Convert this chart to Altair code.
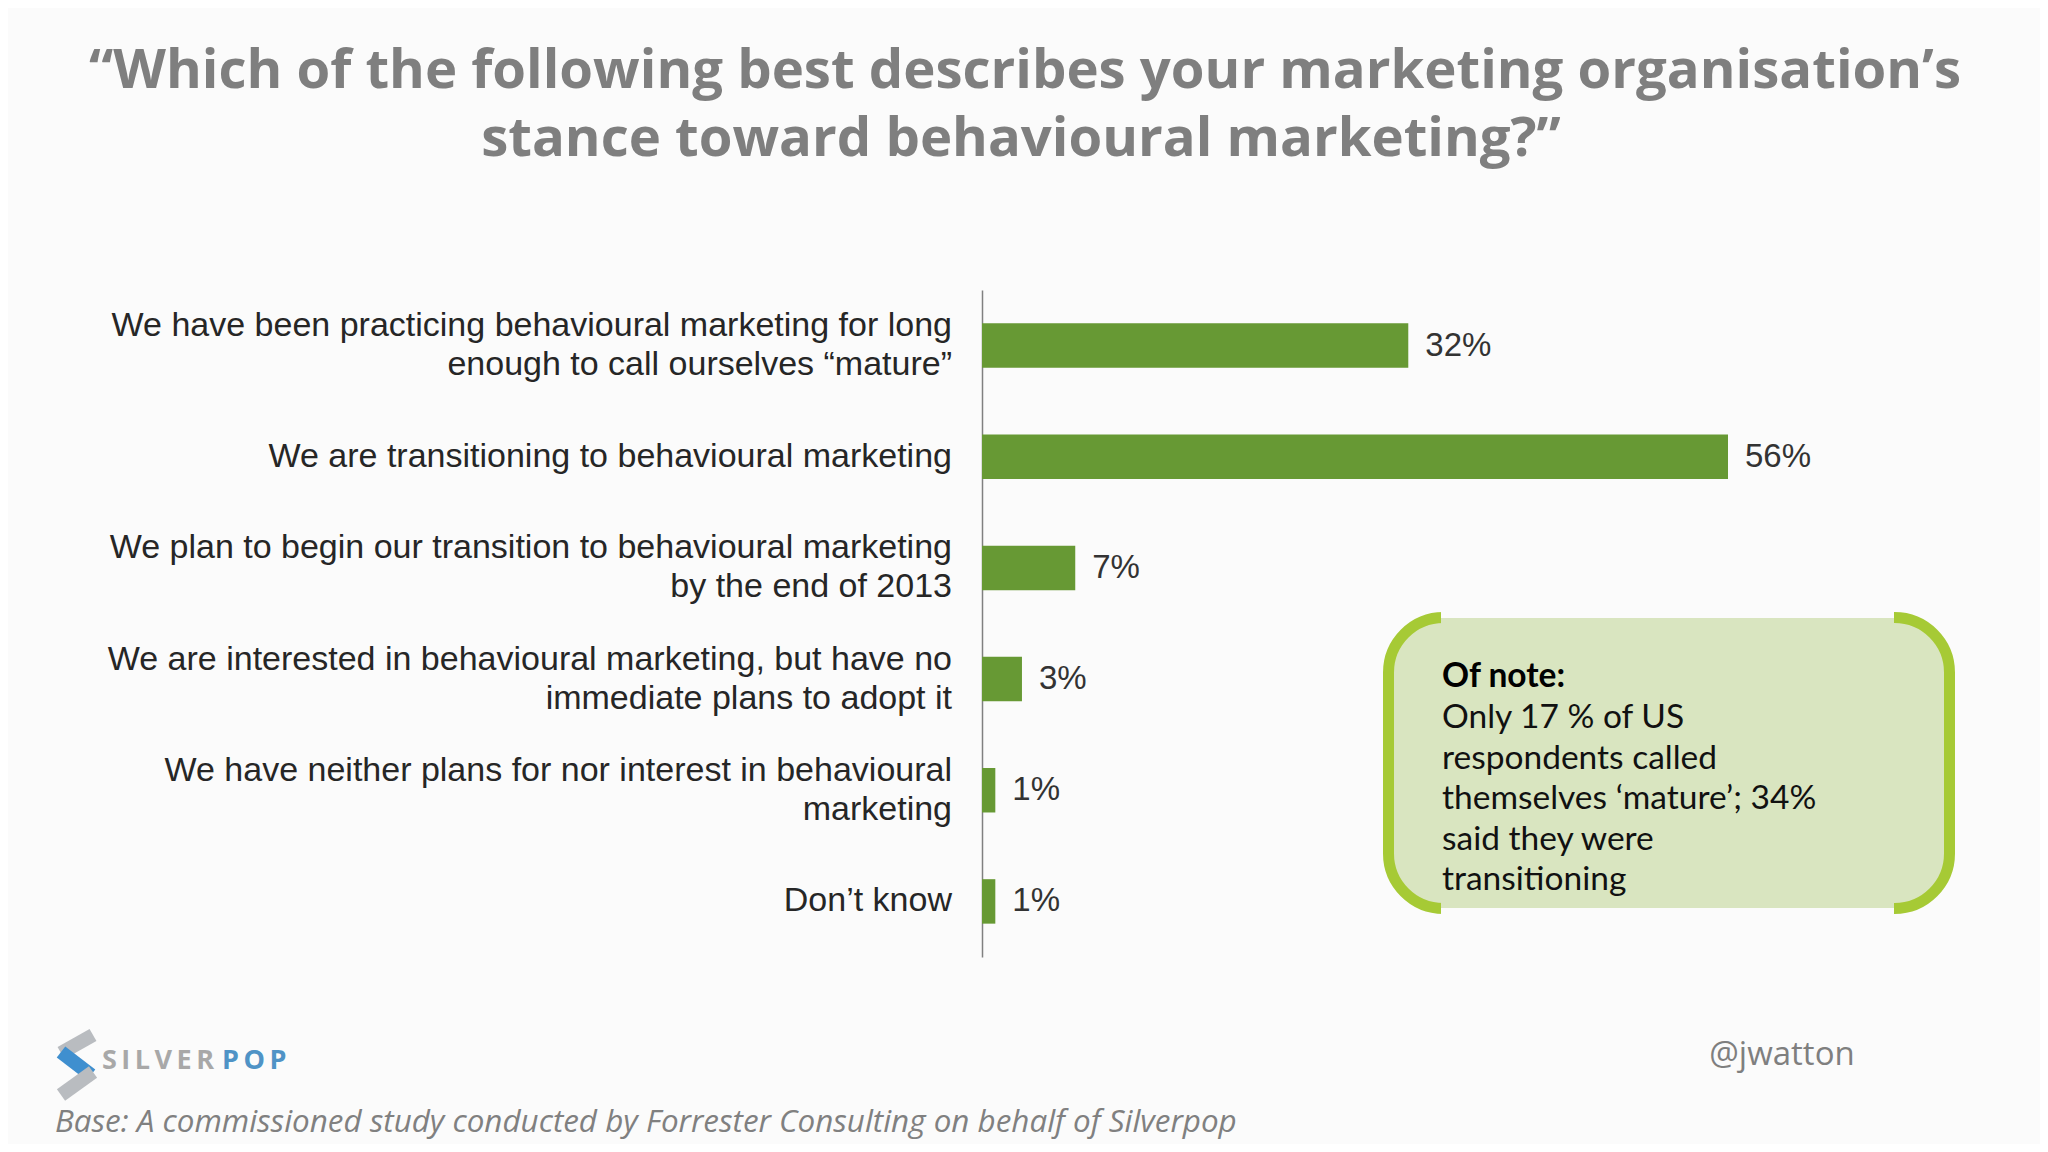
import altair as alt
import pandas as pd

# ---- data -------------------------------------------------------------
categories = [
    "We have been practicing behavioural marketing for long|enough to call ourselves \u201cmature\u201d",
    "We are transitioning to behavioural marketing",
    "We plan to begin our transition to behavioural marketing|by the end of 2013",
    "We are interested  in behavioural marketing, but have no|immediate plans to adopt it",
    "We have neither plans for nor interest in behavioural|marketing",
    "Don\u2019t know",
]
values = [32, 56, 7, 3, 1, 1]

title_lines = [
    "\u201cWhich of the following best describes your marketing organisation\u2019s",
    "stance toward behavioural marketing?\u201d",
]
note_head = "Of note:"
note_lines = [
    "Only 17 % of US",
    "respondents called",
    "themselves \u2018mature\u2019; 34%",
    "said they were",
    "transitioning",
]
footer = "Base: A commissioned study conducted by Forrester Consulting on behalf of Silverpop"
handle = "@jwatton"

df = pd.DataFrame({"category": categories, "value": values})

GREEN = "#679934"
BOX_FILL = "#d9e5c0"
LIME = "#a6ca35"
BG = "#fbfbfb"
SANS2 = "Open Sans"

one = pd.DataFrame({"a": [0]})

# ---- bars ---------------------------------------------------------------
y_enc = alt.Y(
    "category:N",
    sort=categories,
    title=None,
    scale=alt.Scale(paddingInner=0.6, paddingOuter=0.3),
    axis=alt.Axis(
        ticks=False,
        grid=False,
        labels=False,
        domainColor="#808080",
        domainWidth=1.5,
    ),
)
x_enc = alt.X("value:Q", scale=alt.Scale(domain=[0, 56], nice=False, zero=True), axis=None)

bars = alt.Chart(df).mark_bar(color=GREEN).encode(y=y_enc, x=x_enc)

lab_base = alt.Chart(df).transform_calculate(
    l1="split(datum.category, '|')[0]",
    l2="length(split(datum.category, '|')) > 1 ? split(datum.category, '|')[1] : ''",
)
lab_style = dict(align="right", baseline="middle", font="Liberation Sans", fontSize=34, color="#262626")
cat_single = lab_base.transform_filter("datum.l2 == ''").mark_text(**lab_style).encode(
    y=y_enc, x=alt.value(-30), text="l1:N")
cat_top = lab_base.transform_filter("datum.l2 != ''").mark_text(dy=-19.5, **lab_style).encode(
    y=y_enc, x=alt.value(-30), text="l1:N")
cat_bot = lab_base.transform_filter("datum.l2 != ''").mark_text(dy=19.5, **lab_style).encode(
    y=y_enc, x=alt.value(-30), text="l2:N")

labels = (
    alt.Chart(df)
    .transform_calculate(lab="datum.value + '%'")
    .mark_text(align="left", baseline="middle", dx=17, font="Liberation Sans", fontSize=33, color="#333333")
    .encode(y=y_enc, x=x_enc, text="lab:N")
)

# ---- title ----------------------------------------------------------------
title1 = alt.Chart(one).mark_text(
    text=title_lines[0], font=SANS2, fontWeight="bold", fontSize=54.5, color="#7f7f7f",
    align="center", baseline="alphabetic",
).encode(x=alt.value(43), y=alt.value(-202))
title2 = alt.Chart(one).mark_text(
    text=title_lines[1], font=SANS2, fontWeight="bold", fontSize=54.5, color="#7f7f7f",
    align="center", baseline="alphabetic",
).encode(x=alt.value(39), y=alt.value(-134))

# ---- note box -------------------------------------------------------------
box = alt.Chart(one).mark_rect(fill=BOX_FILL, stroke=LIME, strokeWidth=11, cornerRadius=55).encode(
    x=alt.value(406.5), x2=alt.value(967.5), y=alt.value(327.5), y2=alt.value(618.5)
)
cover_top_bg = alt.Chart(one).mark_rect(fill=BG).encode(
    x=alt.value(459), x2=alt.value(912), y=alt.value(320), y2=alt.value(328)
)
cover_top_fill = alt.Chart(one).mark_rect(fill=BOX_FILL).encode(
    x=alt.value(459), x2=alt.value(912), y=alt.value(328), y2=alt.value(334)
)
cover_bot_fill = alt.Chart(one).mark_rect(fill=BOX_FILL).encode(
    x=alt.value(459), x2=alt.value(912), y=alt.value(612), y2=alt.value(618)
)
cover_bot_bg = alt.Chart(one).mark_rect(fill=BG).encode(
    x=alt.value(459), x2=alt.value(912), y=alt.value(618), y2=alt.value(626)
)
note_h = alt.Chart(one).mark_text(
    text=note_head, font="Lato", fontWeight="bold", fontSize=33.5, color="#000000",
    align="left", baseline="alphabetic",
).encode(x=alt.value(460), y=alt.value(397))
note_b = alt.Chart(one).mark_text(
    text=note_lines, font="Lato", fontSize=33.5, color="#111111", lineHeight=40.5,
    align="left", baseline="alphabetic",
).encode(x=alt.value(460), y=alt.value(438))

# ---- footer, handle, logo --------------------------------------------------
foot = alt.Chart(one).mark_text(
    text=footer, font=SANS2, fontStyle="italic", fontSize=31.4, color="#808080",
    align="left", baseline="alphabetic",
).encode(x=alt.value(-927), y=alt.value(842))
hand = alt.Chart(one).mark_text(
    text=handle, font=SANS2, fontSize=33, color="#7f7f7f",
    align="center", baseline="alphabetic",
).encode(x=alt.value(800), y=alt.value(775))

logo_silver = alt.Chart(one).mark_text(
    text="S\u2009I\u2009L\u2009V\u2009E\u2009R", font=SANS2, fontWeight="bold", fontSize=27, color="#a8a8a8",
    align="left", baseline="alphabetic",
).encode(x=alt.value(-880), y=alt.value(779))
logo_pop = alt.Chart(one).mark_text(
    text="P\u2009O\u2009P", font=SANS2, fontWeight="bold", fontSize=27, color="#4f93c6",
    align="left", baseline="alphabetic",
).encode(x=alt.value(-760), y=alt.value(779))
s1 = alt.Chart(one).mark_rule(color="#b9bcc0", strokeWidth=14).encode(
    x=alt.value(-889), y=alt.value(745), x2=alt.value(-921), y2=alt.value(763))
s2 = alt.Chart(one).mark_rule(color="#3f8fcf", strokeWidth=14).encode(
    x=alt.value(-921), y=alt.value(762), x2=alt.value(-891), y2=alt.value(785))
s3 = alt.Chart(one).mark_rule(color="#b9bcc0", strokeWidth=14).encode(
    x=alt.value(-889), y=alt.value(782), x2=alt.value(-921), y2=alt.value(805))

chart = (
    alt.layer(
        box, cover_top_bg, cover_top_fill, cover_bot_fill, cover_bot_bg,
        bars, cat_single, cat_top, cat_bot, labels, title1, title2, note_h, note_b,
        foot, hand, logo_silver, logo_pop, s1, s2, s3,
    )
    .properties(
        width=746,
        height=667,
        autosize=alt.AutoSizeParams(type="none"),
        padding={"left": 974, "top": 282, "right": 312, "bottom": 187},
        background=BG,
    )
    .configure_view(stroke=None)
)

chart.save("out.html", embed_options={"renderer": "svg", "actions": False})
